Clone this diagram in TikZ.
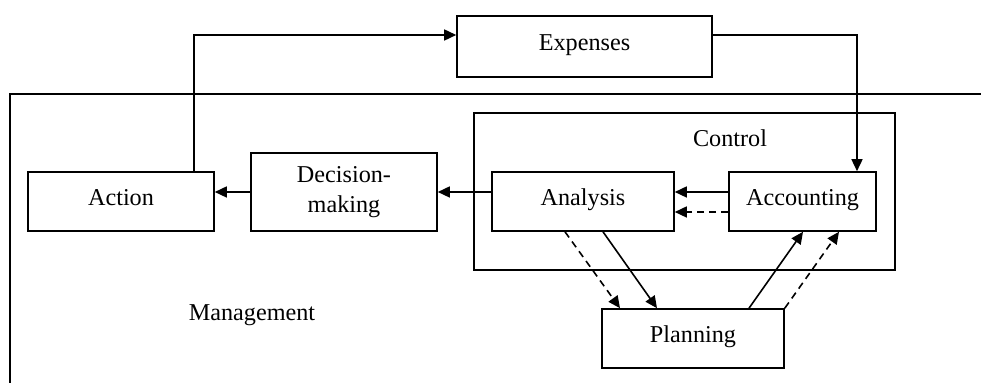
\documentclass[tikz,border=0pt]{standalone}
\usepackage{fontspec}
\setmainfont{Liberation Serif}
\usetikzlibrary{arrows.meta}
\begin{document}
\begin{tikzpicture}[x=0.5pt,y=-0.5pt,
  every node/.style={font=\fontsize{12.1pt}{15pt}\selectfont},
  box/.style={draw, line width=0.8pt, inner sep=0pt, text height=0.7em, text depth=0.25em},
  twoline/.style={draw, line width=0.8pt, inner sep=0pt, align=center},
  frame/.style={draw, line width=0.8pt},
  arr/.style={line width=0.8pt, -{Triangle[length=6pt,width=5.5pt]}},
  dsh/.style={arr, dash pattern=on 3.5pt off 2.5pt}]
\useasboundingbox (0,0) rectangle (981,383);

% open management frame and the control group
\draw[frame] (10,383) -- (10,94) -- (981,94);
\node[frame, inner sep=0pt, minimum width=210.5pt, minimum height=78.5pt] (ctl) at (684.5,191.5) {};
\node (ctltxt) at (730,138) {Control};
\node (mgt) at (252,315) {Management};

% process boxes
\node[box, minimum width=93pt, minimum height=29.5pt] (act) at (121,201.5) {Action};
\node[twoline, minimum width=93pt, minimum height=39pt] (dec) at (344,192) {Decision-\\making};
\node[box, minimum width=91pt, minimum height=29.5pt] (ana) at (583,201.5) {Analysis};
\node[box, minimum width=73.5pt, minimum height=29.5pt] (acc) at (802.5,201.5) {Accounting};
\node[box, minimum width=127.5pt, minimum height=30.5pt] (exp) at (584.5,46.5) {Expenses};
\node[box, minimum width=91pt, minimum height=29.5pt] (pla) at (693,338.5) {Planning};

% routing helpers
\coordinate (up) at (194,35);
\coordinate (dn) at (857,35);
\coordinate (dl) at (0,212);
\coordinate (p1) at (565,0);
\coordinate (p2) at (620,0);
\coordinate (p3) at (603,0);
\coordinate (p4) at (657,0);
\coordinate (p5) at (749,0);
\coordinate (p6) at (803,0);
\coordinate (p8) at (839,0);

% connectors
\draw[arr] (act.north -| up) |- (exp.west |- up);
\draw[arr] (exp.east |- up) -| (acc.north -| dn);
\draw[arr] (dec.west) -- (act.east |- dec.west);
\draw[arr] (ana.west |- dec.east) -- (dec.east);
\draw[arr] (acc.west |- dec.east) -- (ana.east |- dec.east);
\draw[dsh] (acc.west |- dl) -- (ana.east |- dl);
\draw[dsh] (ana.south -| p1) -- (pla.north -| p2);
\draw[arr] (ana.south -| p3) -- (pla.north -| p4);
\draw[arr] (pla.north -| p5) -- (acc.south -| p6);
\draw[dsh] (pla.north east) -- (acc.south -| p8);
\end{tikzpicture}
\end{document}
